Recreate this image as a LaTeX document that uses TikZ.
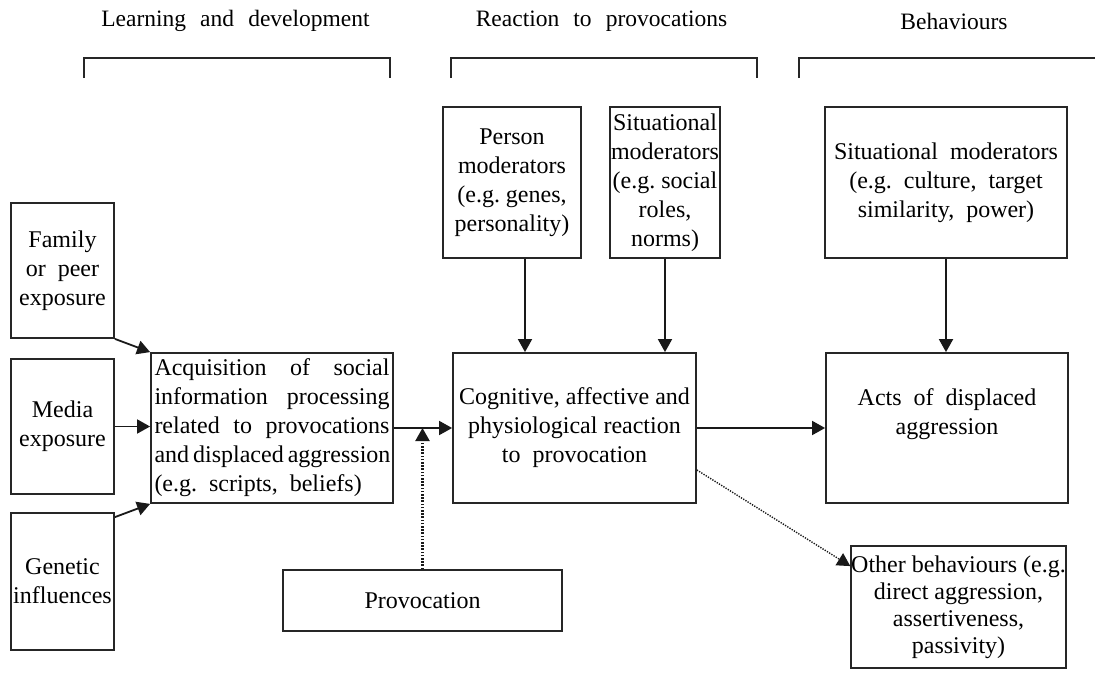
\documentclass[tikz,border=0pt]{standalone}
\usepackage{fontspec}
\setmainfont{Liberation Serif}
\newfontfamily\headfont[WordSpace=2.4]{Liberation Serif}
\usetikzlibrary{arrows.meta}
\begin{document}
\begin{tikzpicture}[x=1pt,y=-1pt,
  box/.style={draw=black!85,line width=1.8pt,inner sep=0pt,align=center,
    font=\fontsize{24}{29}\selectfont},
  head/.style={inner sep=0pt,font=\headfont\fontsize{23.5}{28}\selectfont},
  tip/.style={-{Triangle[length=13pt,width=14pt]}},
  arr/.style={line width=1.8pt,draw=black!90,tip},
  darr/.style={line width=2.2pt,draw=black!90,dash pattern=on 1.6pt off 1.6pt,tip},
  tdarr/.style={line width=1.4pt,draw=black!90,dash pattern=on 1.3pt off 1.3pt,tip},
  brk/.style={line width=1.8pt,draw=black!85}]
\useasboundingbox (0,0) rectangle (1095,672);
% headings
\node[head] (h1) at (235.5,21) {Learning and development};
\node[head] (h2) at (601.5,21) {Reaction to provocations};
\node[head] (h3) at (954,21) {Behaviours};
% brackets
\draw[brk] (84,78) -- (84,58) -- (390,58) -- (390,78);
\draw[brk] (451,78) -- (451,58) -- (757,58) -- (757,78);
\draw[brk,line width=2.4pt] (799,78) -- (799,58) -- (1095,58);
% boxes
\node[box,minimum width=103pt,minimum height=135pt] (fam) at (62.5,270.5) {Family\\or\ \ peer\\exposure};
\node[box,minimum width=103pt,minimum height=135pt] (med) at (62.5,426.5) {Media\\exposure};
\node[box,minimum width=103pt,minimum height=137pt] (gen) at (62.5,581.5) {Genetic\\influences};
\node[box,minimum width=242pt,minimum height=150pt,align=left] (acq) at (272,428)
  {\makebox[235pt][s]{Acquisition of social}\\
   \makebox[235pt][s]{information processing}\\
   \makebox[235pt][s]{related to provocations}\\
   \makebox[235pt][s]{and displaced aggression}\\
   (e.g.\ \ scripts,\ \ beliefs)};
\node[box,minimum width=279pt,minimum height=61pt] (prov) at (422.5,600.5) {Provocation};
\node[box,minimum width=243pt,minimum height=150pt] (cog) at (574.5,428)
  {Cognitive,\ affective\ and\\physiological\ reaction\\to\ \ provocation};
\node[box,minimum width=242pt,minimum height=150pt] (acts) at (947,428)
  {Acts\ \ of\ \ displaced\\aggression\\[4pt]};
\node[box,minimum width=213pt,minimum height=122pt,font=\fontsize{24}{27}\selectfont] (oth) at (958.5,607)
  {Other behaviours (e.g.\\direct aggression,\\assertiveness,\\passivity)};
\node[box,minimum width=138pt,minimum height=151pt] (per) at (512,182.5)
  {Person\\moderators\\(e.g.\ genes,\\personality)};
\node[box,minimum width=110pt,minimum height=151pt] (sit1) at (665,182.5)
  {Situational\\moderators\\(e.g.\ social\\roles,\\norms)};
\node[box,minimum width=242pt,minimum height=151pt] (sit2) at (946,182.5)
  {Situational\ \ moderators\\(e.g.\ \ culture,\ \ target\\similarity,\ \ power)};
% connectors
\draw[arr] (fam.south east) -- (acq.north west);
\draw[arr] (med.east) -- (med.east -| acq.west);
\draw[arr] ([yshift=-5pt]gen.north east) -- (acq.south west);
\draw[arr] (acq.east) -- (cog.west);
\draw[darr] (prov.north) -- (prov.north |- acq.east);
\draw[arr] ([xshift=13pt]per.south) -- ([xshift=13pt]per.south |- cog.north);
\draw[arr] (sit1.south) -- (sit1.south |- cog.north);
\draw[arr] (sit2.south) -- (sit2.south |- acts.north);
\draw[arr] (cog.east) -- (acts.west);
\draw[tdarr] ([yshift=-42pt]cog.east) -- ([yshift=-21pt]oth.north west);
\end{tikzpicture}
\end{document}
